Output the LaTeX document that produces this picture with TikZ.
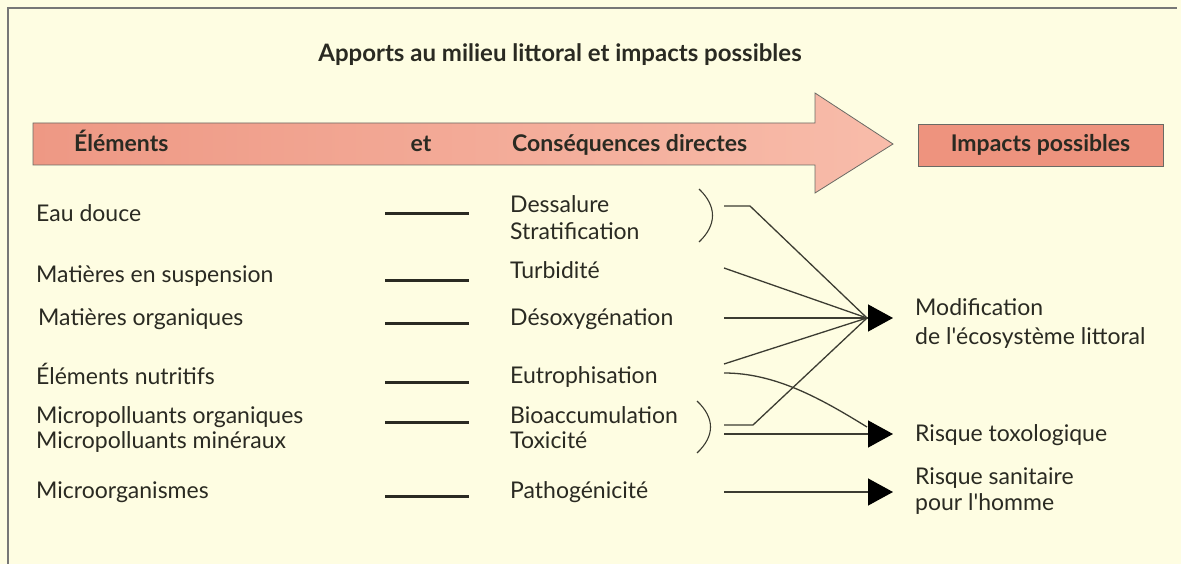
\documentclass[tikz,border=0pt]{standalone}
\usepackage{fontspec}
\setmainfont{Lato}
\usetikzlibrary{arrows.meta}
\definecolor{bgyellow}{HTML}{FEFDE2}
\definecolor{salmonA}{HTML}{EE9884}
\definecolor{salmonB}{HTML}{F8BCAA}
\definecolor{boxsalmon}{HTML}{EE937E}
\definecolor{framegray}{HTML}{777777}
\definecolor{ink}{HTML}{2A2A22}
\definecolor{linec}{HTML}{3C3C32}
\tikzset{
  txt/.style={anchor=base west, inner sep=0pt, font=\fontsize{23}{25}\selectfont, text=ink},
  hdr/.style={anchor=base, inner sep=0pt, font=\fontsize{23}{25}\selectfont\bfseries, text=ink},
  dashline/.style={draw=ink, line width=3pt},
  conn/.style={draw=linec, line width=1.3pt},
  tip/.style={-{Triangle[length=25pt,width=27pt,color=black]}},
  paren/.style={draw=linec, line width=1.1pt},
}
\begin{document}
\begin{tikzpicture}[x=1pt,y=-1pt]
\useasboundingbox (0,0) rectangle (1181,564);
\fill[bgyellow] (0,0) rectangle (1181,564);
% frame
\draw[framegray, line width=1.5pt] (8,564) -- (8,8) -- (1177,8);
% title
\node[hdr, font=\fontsize{24}{26}\selectfont\bfseries] (title) at (560,62) {Apports au milieu littoral et impacts possibles};
% big arrow
\shade[left color=salmonA, right color=salmonB, draw=ink!70, line width=0.8pt]
  (33,123) -- (815,123) -- (815,93) -- (893,144) -- (815,193) -- (815,165) -- (33,165) -- cycle;
\node[hdr, anchor=base west] (hel) at (74,152) {Éléments};
\node[hdr] (het) at (421,152) {et};
\node[hdr, anchor=base west] (hcons) at (512,152) {Conséquences directes};
% impacts box
\node[draw=ink!70, line width=0.8pt, fill=boxsalmon, minimum width=245pt, minimum height=42pt, inner sep=0pt,
  font=\fontsize{23}{25}\selectfont\bfseries, text=ink] (himp) at (1040.5,145) {Impacts possibles};
% left column
\node[txt] (e1) at (36,222) {Eau douce};
\node[txt] (e2) at (36,282) {Matières en suspension};
\node[txt] (e3) at (38,325) {Matières organiques};
\node[txt] (e4) at (36,384) {Éléments nutritifs};
\node[txt] (e5) at (36,423) {Micropolluants organiques};
\node[txt] (e6) at (36,448) {Micropolluants minéraux};
\node[txt] (e7) at (36,498) {Microorganismes};
% dashes
\foreach \y/\n in {214/1,280/2,323/3,382/4,422/5,496/6}{
  \coordinate (da\n) at (385,\y);
  \coordinate (db\n) at (469,\y);
  \draw[dashline] (da\n) -- (db\n);
}
% middle column
\node[txt] (c1) at (510,213) {Dessalure};
\node[txt] (c1b) at (510,240) {Stratification};
\node[txt] (c2) at (510,278) {Turbidité};
\node[txt] (c3) at (510,325) {Désoxygénation};
\node[txt] (c4) at (510,383) {Eutrophisation};
\node[txt] (c5) at (510,423) {Bioaccumulation};
\node[txt] (c5b) at (510,448) {Toxicité};
\node[txt] (c6) at (510,498) {Pathogénicité};
% parentheses
\draw[paren] (699,189) .. controls (717,206) and (717,225) .. (699,242);
\draw[paren] (697,401) .. controls (715,418) and (715,436) .. (697,453);
% targets
\coordinate (tm) at (893,318);
\coordinate (tmb) at (867,318);
\coordinate (tt) at (893,434);
\coordinate (ttb) at (867,427);
\coordinate (ts) at (893,492);
% right column
\node[txt] (r1) at (915,316) {Modification};
\node[txt] (r1b) at (915,344) {de l\textquotesingle écosystème littoral};
\node[txt] (r2) at (915,441) {Risque toxologique};
\node[txt] (r3) at (915,484) {Risque sanitaire};
\node[txt] (r3b) at (915,510) {pour l\textquotesingle homme};
% connectors
\coordinate (s1) at (724,206);
\coordinate (s1k) at (750,206);
\coordinate (s2) at (724,268);
\coordinate (s3) at (724,318);
\coordinate (s4a) at (724,364);
\coordinate (s4b) at (724,373);
\coordinate (s5) at (724,425);
\coordinate (s5k) at (753,425);
\coordinate (s6) at (724,434);
\coordinate (s7) at (724,492);
\draw[conn] (s1) -- (s1k) -- (tmb);
\draw[conn] (s2) -- (tmb);
\draw[conn] (s4a) -- (tmb);
\draw[conn] (s5) -- (s5k) -- (tmb);
\draw[conn, tip] (s3) -- (tm);
\draw[conn] (s4b) .. controls (775,373) and (820,398) .. (ttb);
\draw[conn, tip] (s6) -- (tt);
\draw[conn, tip] (s7) -- (ts);
\end{tikzpicture}
\end{document}
